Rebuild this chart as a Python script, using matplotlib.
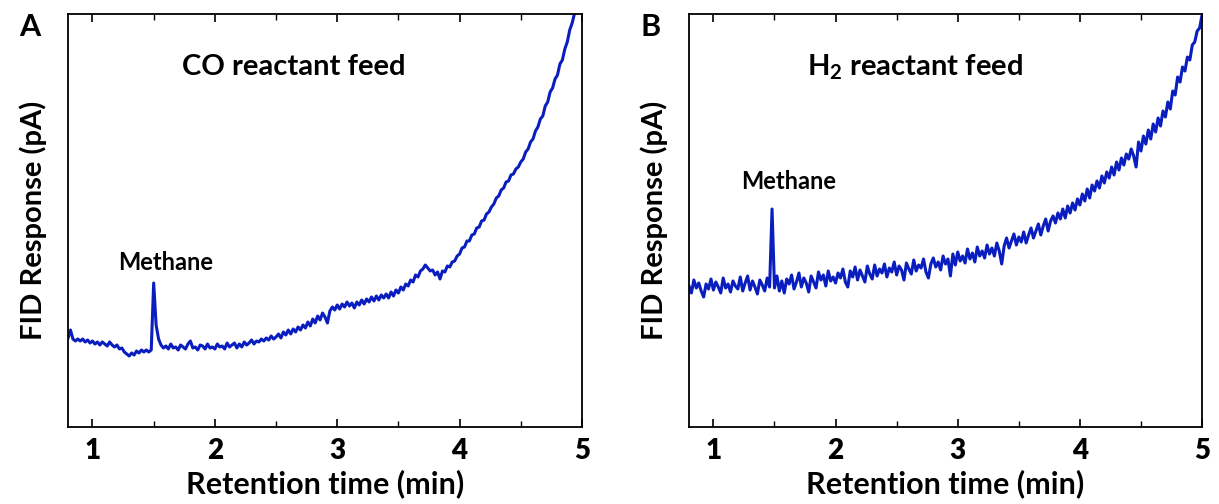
import numpy as np
import matplotlib
matplotlib.use('Agg')
import matplotlib.pyplot as plt
from matplotlib.ticker import MultipleLocator

plt.rcParams['font.family'] = ['Lato', 'DejaVu Sans']
plt.rcParams['font.weight'] = 'bold'
plt.rcParams['axes.labelweight'] = 'bold'
plt.rcParams['mathtext.fontset'] = 'custom'
plt.rcParams['mathtext.rm'] = 'Lato:bold'
plt.rcParams['mathtext.bf'] = 'Lato:bold'

# retention time grid (min), one reading every 0.02 min
time_min = np.round(np.arange(0.80, 5.001, 0.02), 2)
x_ticks = [1, 2, 3, 4, 5]
x_tick_labels = ['1', '2', '3', '4', '5']

# FID response (arbitrary units, panel A)
co_feed = [
    89, 97, 88, 86, 88, 86, 88, 85, 87, 84,
    86, 83, 85, 82, 85, 83, 81, 85, 82, 80,
    82, 78, 79, 75, 73, 71, 74, 72, 76, 74,
    77, 75, 77, 75, 77, 144, 102, 88, 82, 79,
    81, 78, 83, 79, 80, 77, 82, 80, 78, 83,
    86, 79, 80, 77, 82, 81, 78, 83, 79, 80,
    78, 83, 80, 81, 78, 84, 80, 82, 84, 79,
    83, 80, 85, 82, 84, 87, 83, 86, 85, 88,
    86, 89, 87, 91, 88, 90, 93, 89, 95, 92,
    97, 93, 98, 95, 100, 97, 102, 99, 105, 101,
    108, 104, 111, 107, 114, 110, 104, 116, 120, 117,
    122, 118, 123, 120, 125, 121, 124, 119, 125, 122,
    127, 123, 128, 125, 130, 126, 131, 127, 132, 129,
    133, 129, 135, 131, 137, 134, 140, 137, 143, 141,
    147, 145, 152, 150, 156, 158, 162, 159, 156, 157,
    152, 155, 148, 156, 155, 161, 160, 165, 166, 171,
    173, 179, 180, 186, 186, 192, 193, 199, 200, 206,
    207, 213, 215, 220, 223, 229, 231, 237, 239, 245,
    246, 252, 253, 258, 260, 265, 268, 275, 278, 285,
    288, 296, 300, 308, 311, 321, 325, 335, 339, 348,
    352, 363, 367, 378, 385, 397, 404, 414, 421, 432,
    440,
]

# FID response (arbitrary units, panel B)
h2_feed = [
    141, 134, 147, 139, 144, 136, 130, 143, 138, 148,
    137, 145, 140, 134, 149, 139, 143, 135, 146, 141,
    138, 150, 136, 144, 151, 137, 146, 140, 133, 147,
    142, 136, 149, 140, 218, 139, 151, 136, 146, 134,
    148, 143, 152, 138, 145, 154, 140, 149, 144, 135,
    151, 145, 139, 155, 147, 152, 141, 156, 146, 150,
    144, 154, 149, 158, 145, 140, 156, 150, 160, 147,
    157, 151, 145, 161, 153, 148, 162, 151, 158, 154,
    163, 150, 159, 155, 165, 152, 161, 157, 147, 164,
    158, 153, 167, 156, 162, 159, 168, 155, 149, 163,
    169, 160, 165, 157, 171, 163, 168, 151, 173, 162,
    175, 166, 171, 164, 178, 168, 174, 165, 180, 171,
    176, 169, 182, 173, 179, 171, 184, 176, 163, 181,
    189, 179, 186, 193, 182, 190, 185, 195, 184, 192,
    199, 189, 196, 203, 192, 201, 208, 196, 206, 211,
    204, 214, 208, 218, 209, 221, 214, 224, 217, 228,
    222, 233, 226, 238, 229, 242, 236, 246, 239, 251,
    244, 255, 249, 260, 252, 265, 257, 269, 262, 273,
    268, 278, 271, 260, 285, 276, 291, 283, 297, 288,
    303, 295, 309, 301, 316, 310, 325, 318, 336, 332,
    350, 345, 360, 356, 370, 367, 382, 385, 396, 399,
    412,
]

panels = ['A', 'B']
feed_titles = ['CO reactant feed', 'H$_\\mathrm{2}$ reactant feed']
methane_label_xy = [(1.21, 164), (1.23, 246)]
line_color = '#0a1ebf'

fig = plt.figure(figsize=(12.19, 5.04), dpi=100)
ax_a = fig.add_axes([0.0558, 0.1528, 0.4216, 0.8194])
ax_b = fig.add_axes([0.5652, 0.1528, 0.4209, 0.8194])

for ax, series, letter, title, mxy in zip([ax_a, ax_b], [co_feed, h2_feed],
                                          panels, feed_titles, methane_label_xy):
    ax.plot(time_min, series, color=line_color, lw=2.2)
    ax.set_xlim(0.8, 5.0)
    ax.set_ylim(0, 413)
    ax.set_xticks(x_ticks)
    ax.set_xticklabels(x_tick_labels, fontsize=20, fontweight='heavy')
    ax.xaxis.set_minor_locator(MultipleLocator(0.5))
    ax.tick_params(axis='x', which='both', direction='in', top=True, bottom=True, pad=8)
    ax.tick_params(axis='x', which='major', length=6, width=1.2)
    ax.tick_params(axis='x', which='minor', length=4, width=1.0)
    ax.set_yticks([])
    for sp in ax.spines.values():
        sp.set_linewidth(1.3)
    ax.set_xlabel('Retention time (min)', fontsize=22, fontweight='bold', labelpad=4)
    ax.set_ylabel('FID Response (pA)', fontsize=21, fontweight='bold', labelpad=15)
    ax.text(-0.075, 0.968, letter, transform=ax.transAxes, fontsize=22,
            fontweight='bold', ha='center', va='center')
    ax.text(0.44, 0.872, title, transform=ax.transAxes, fontsize=21,
            fontweight='bold', ha='center', va='center')
    ax.text(mxy[0], mxy[1], 'Methane', fontsize=17, fontweight='bold',
            ha='left', va='center')

fig.savefig('out.png', dpi=100)
